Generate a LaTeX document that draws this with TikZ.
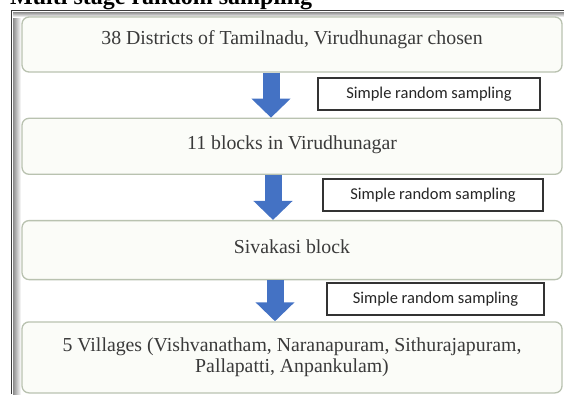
\documentclass[tikz,border=0pt]{standalone}
\usepackage{fontspec}
\setmainfont{Liberation Serif}
\newfontfamily\labelfont{Carlito}
\usepackage{tikz}
\usetikzlibrary{arrows.meta, positioning}
\definecolor{arrowblue}{HTML}{4472C4}
\definecolor{stageedge}{HTML}{B9C2B0}
\definecolor{stagefill}{HTML}{FBFCF8}
\definecolor{stagetext}{HTML}{3A3A3A}
\definecolor{frameline}{HTML}{3C3C3C}

\begin{document}
\begin{tikzpicture}[
    x=1pt, y=-1pt,
    stage/.style={rectangle, rounded corners=7pt, minimum width=540pt,
                  minimum height=#1, draw=stageedge, line width=1.3pt,
                  fill=stagefill, align=center, text=stagetext,
                  font=\fontsize{19.8}{21}\selectfont},
    samplab/.style={rectangle, minimum width=220pt, minimum height=32pt,
                    draw=black!80, line width=1.2pt, fill=white,
                    font=\labelfont\fontsize{16.5}{18}\selectfont, text=black!85},
    flow/.style={draw=arrowblue, line width=17pt,
                 -{Triangle[width=38pt, length=19pt]}}
]
\useasboundingbox (0,0) rectangle (564,394);
\clip (0,0) rectangle (564,394);

% Heading, cut by the page edge
\node[anchor=base west, inner sep=0pt,
      font=\bfseries\fontsize{24}{28}\selectfont] (title) at (10,4.5) {Multi stage random sampling};

% Frame
\shade[left color=black!45, right color=white] (13,12) rectangle (21,394);
\shade[top color=black!45, bottom color=white] (13,12) rectangle (564,17);
\draw[frameline, line width=1.6pt] (11.5,394) -- (11.5,10.5) -- (564,10.5);

% Stages
\node[stage=55pt, text height=14pt, text depth=14pt] (dist) at (292,44.5) {38 Districts of Tamilnadu, Virudhunagar chosen};
\node[stage=56pt, text height=14pt, text depth=8pt, below=45pt of dist] (blk) {11 blocks in Virudhunagar};
\node[stage=59pt, text height=14pt, text depth=8pt, below=45pt of blk] (siv) {Sivakasi block};
\node[stage=71pt, below=41pt of siv] (vil) {5 Villages (Vishvanatham, Naranapuram, Sithurajapuram,\\Pallapatti, Anpankulam)};

% Sampling labels
\node[samplab, minimum width=222pt] (samp1) at (429,94) {Simple random sampling};
\node[samplab] (samp2) at (433,195) {Simple random sampling};
\node[samplab, minimum width=217pt] (samp3) at (435.5,299) {Simple random sampling};

% Arrows
\draw[flow] ([xshift=-21pt]dist.south) -- ([xshift=-21pt]blk.north);
\draw[flow] ([xshift=-19pt]blk.south) -- ([xshift=-19pt]siv.north);
\draw[flow] ([xshift=-17pt]siv.south) -- ([xshift=-17pt]vil.north);

\end{tikzpicture}
\end{document}
